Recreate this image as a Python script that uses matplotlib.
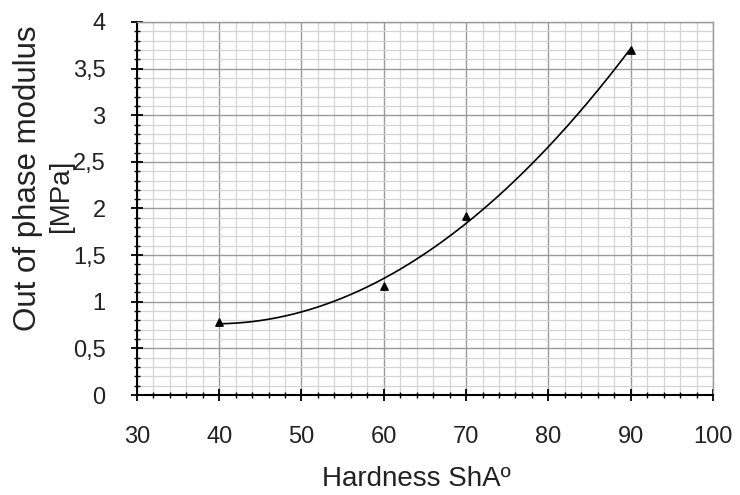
import numpy as np
import matplotlib.pyplot as plt
from matplotlib.ticker import MultipleLocator, FuncFormatter

plt.rcParams['font.family'] = ['Liberation Sans', 'DejaVu Sans']

# Messpunkte
hardness = [40, 60, 70, 90]
modulus = [0.78, 1.17, 1.92, 3.70]

# Polynom 2. Grades als Trendlinie
coef = np.polyfit(hardness, modulus, 2)
x_fit = np.linspace(min(hardness), max(hardness), 200)
y_fit = np.polyval(coef, x_fit)

fig = plt.figure(figsize=(7.4, 4.95), dpi=100)
ax = fig.add_axes([0.185, 0.202, 0.7785, 0.7536])

ax.plot(x_fit, y_fit, color='black', linewidth=1.2, zorder=3)
ax.scatter(hardness, modulus, marker='^', color='black', s=28, zorder=4)

ax.set_xlim(30, 100)
ax.set_ylim(0, 4)
ax.xaxis.set_major_locator(MultipleLocator(10))
ax.xaxis.set_minor_locator(MultipleLocator(2))
ax.yaxis.set_major_locator(MultipleLocator(0.5))
ax.yaxis.set_minor_locator(MultipleLocator(0.1))

fmt = FuncFormatter(lambda v, p: ('%g' % v).replace('.', ','))
ax.yaxis.set_major_formatter(fmt)

ax.grid(which='major', color='#9a9a9a', linewidth=1.0)
ax.grid(which='minor', color='#d4d4d4', linewidth=0.9)

ax.tick_params(which='major', direction='inout', length=9, width=1.3, labelsize=17,
               colors='black', labelcolor='#222222')
ax.tick_params(axis='x', which='major', pad=18)
ax.tick_params(axis='y', which='major', pad=18)
ax.tick_params(which='minor', direction='inout', length=5, width=1.0)

for side in ['top', 'right']:
    ax.spines[side].set_color('#9a9a9a')
    ax.spines[side].set_linewidth(1.0)
for side in ['left', 'bottom']:
    ax.spines[side].set_linewidth(1.5)

# Achsentitel
fig.text(0.562, 0.032, 'Hardness ShAº', fontsize=20, color='#222222',
         ha='center', va='center')
fig.text(0.038, 0.640, 'Out of phase modulus', fontsize=22.5, color='#222222',
         rotation=90, ha='center', va='center')
fig.text(0.083, 0.605, '[MPa]', fontsize=20, color='#222222',
         rotation=90, ha='center', va='center')

fig.savefig('out.png', dpi=100)
